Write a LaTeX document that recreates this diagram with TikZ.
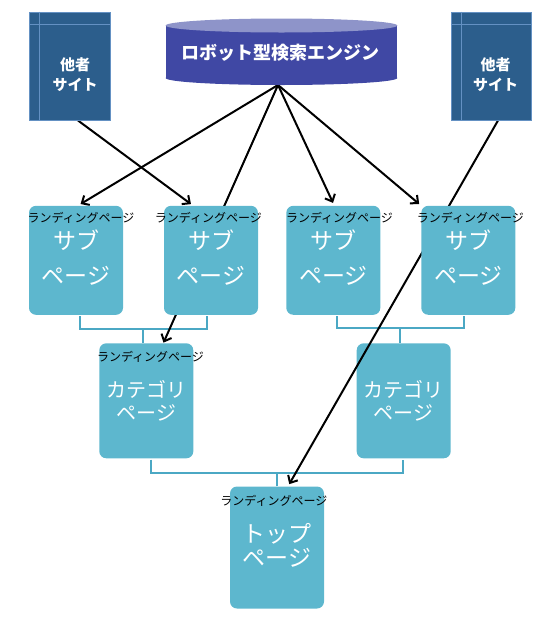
\documentclass[tikz,border=0pt]{standalone}
\usepackage{fontspec}
\setmainfont{Noto Sans CJK JP}
\usetikzlibrary{arrows.meta,calc}
\pgfdeclarelayer{back}
\pgfsetlayers{back,main}
\definecolor{sitefill}{RGB}{44,94,140}
\definecolor{siteline}{RGB}{100,145,195}
\definecolor{engbody}{RGB}{64,72,164}
\definecolor{engtop}{RGB}{142,148,201}
\definecolor{pagefill}{RGB}{93,183,206}
\definecolor{bracketc}{RGB}{75,168,196}
\begin{document}
\begin{tikzpicture}[x=1pt,y=-1pt,
  site/.style={draw=siteline,line width=1pt,fill=sitefill,minimum width=80.5pt,minimum height=108pt,inner sep=0pt},
  pagebox/.style={fill=pagefill,rounded corners=7pt,minimum width=94pt,inner sep=0pt},
  subbox/.style={pagebox,minimum height=109pt},
  catbox/.style={pagebox,minimum height=115pt},
  topbox/.style={pagebox,minimum height=122pt},
  landing/.style={font=\fontsize{12}{14}\selectfont,inner sep=0pt,text=black},
  subtext/.style={text=white,align=center,font=\fontsize{23}{35}\selectfont,inner sep=0pt},
  cattext/.style={text=white,align=center,font=\fontsize{20}{23}\selectfont,inner sep=0pt},
  toptext/.style={text=white,align=center,font=\fontsize{23}{24}\selectfont,inner sep=0pt},
  sitetext/.style={text=white,align=center,font=\bfseries\fontsize{15}{20}\selectfont,inner sep=0pt},
  link/.style={draw=black,line width=2pt,-{Straight Barb[length=6pt,width=11pt]}},
  bracket/.style={draw=bracketc,line width=2pt}
]
\useasboundingbox (0,0) rectangle (554,627);

% other sites
\node[site] (site1) at (70,66) {};
\draw[siteline,line width=1pt] ($(site1.north west)+(10.7,0)$) -- ($(site1.south west)+(10.7,0)$);
\draw[siteline,line width=1pt] ($(site1.north west)+(0,13.3)$) -- ($(site1.north east)+(0,13.3)$);
\node[sitetext] (site1text) at (75,75) {他者\\サイト};
\node[site] (site2) at (491.5,66) {};
\draw[siteline,line width=1pt] ($(site2.north west)+(10.7,0)$) -- ($(site2.south west)+(10.7,0)$);
\draw[siteline,line width=1pt] ($(site2.north west)+(0,13.3)$) -- ($(site2.north east)+(0,13.3)$);
\node[sitetext] (site2text) at (495.7,75) {他者\\サイト};

% search engine cylinder
\fill[engbody] (165.7,25.5) rectangle (397.3,78);
\fill[engbody] (281.5,78) ellipse [x radius=115.8pt, y radius=7pt];
\fill[engtop] (281.5,25.5) ellipse [x radius=115.8pt, y radius=7pt];
\node[font=\bfseries\fontsize{18}{20}\selectfont,text=white,inner sep=0pt] (engine) at (280.5,53) {ロボット型検索エンジン};
\coordinate (engbot) at (278,85);

% sub pages
\node[subbox] (sub1) at (76,260.3) {};
\node[subbox] (sub2) at (211,260.3) {};
\node[subbox] (sub3) at (333.3,260.3) {};
\node[subbox] (sub4) at (468.3,260.3) {};
\node[subtext] (sub1text) at (76,257.5) {サブ\\ページ};
\node[subtext] (sub2text) at (211,257.5) {サブ\\ページ};
\node[subtext] (sub3text) at (333.3,257.5) {サブ\\ページ};
\node[subtext] (sub4text) at (468.3,257.5) {サブ\\ページ};
\node[landing] (lp1) at (81,218.3) {ランディングページ};
\node[landing] (lp2) at (208.3,218.3) {ランディングページ};
\node[landing] (lp3) at (339.5,218.3) {ランディングページ};
\node[landing] (lp4) at (470.3,218.3) {ランディングページ};

% category and top pages
\node[cattext] (cat1text) at (146.3,400.8) {カテゴリ\\ページ};
\node[cattext] (cat2text) at (403.7,400.8) {カテゴリ\\ページ};
\node[landing] (lp5) at (150.5,356.7) {ランディングページ};
\node[toptext] (toptxt) at (277,545) {トップ\\ページ};
\node[landing] (lp6) at (273.8,500.7) {ランディングページ};

\begin{pgfonlayer}{back}
\node[catbox] (cat1) at (146.3,400.8) {};
\node[catbox] (cat2) at (403.7,400.8) {};
\node[topbox] (top) at (277,547.5) {};
% hierarchy brackets
\draw[bracket] ($(sub1.south)+(4,1)$) -- ++(0,13) -| ($(sub2.south)+(-4.3,1)$);
\draw[bracket] ($(cat1.north)+(-3,0)$) -- ++(0,-14);
\draw[bracket] ($(sub3.south)+(4,1)$) -- ++(0,12) -| ($(sub4.south)+(-4.3,1)$);
\draw[bracket] ($(cat2.north)+(-3.7,0)$) -- ++(0,-15);
\draw[bracket] ($(cat1.south)+(4.4,1)$) -- ++(0,13.5) -| ($(cat2.south)+(-1,1)$);
\draw[bracket] ($(top.north)+(-0.3,0)$) -- ++(0,-13.4);
% links
\draw[link,shorten >=3pt] (engbot) -- ($(sub1.north)+(2,0)$);
\draw[link,shorten >=0.5pt] (engbot) -- ($(cat1.north)+(17,0)$);
\draw[link,shorten >=3pt] (engbot) -- ($(sub3.north)+(1,0)$);
\draw[link,shorten >=2.5pt] (engbot) -- (sub4.north west);
\draw[link,shorten >=2.5pt] ($(site1.south)+(8,0)$) -- ($(sub2.north)+(-18,0)$);
\draw[link,shorten >=2.5pt] ($(site2.south)+(6.5,0)$) -- ($(top.north)+(11,0)$);
\end{pgfonlayer}
\end{tikzpicture}
\end{document}
